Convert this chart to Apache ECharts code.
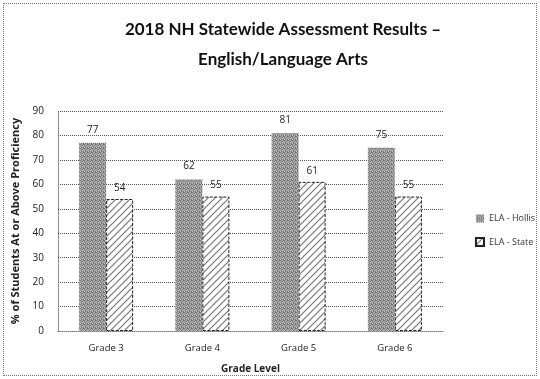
<!DOCTYPE html>
<html>
<head>
<meta charset="utf-8">
<script src="https://cdn.jsdelivr.net/npm/echarts@6/dist/echarts.min.js"></script>
<style>
  html, body { margin: 0; padding: 0; background: #fff; }
  #frame { position: absolute; left: 3px; top: 3px; width: 532px; height: 371px; border: 1px dotted #777; }
  #chart { position: absolute; left: 0; top: 0; width: 540px; height: 379px; }
</style>
</head>
<body>
<div id="frame"></div>
<div id="chart"></div>
<script>
// Grade categories and proficiency percentages
const grades = ['Grade 3', 'Grade 4', 'Grade 5', 'Grade 6'];
const hollis = [77, 62, 81, 75];
const state = [54, 55, 61, 55];
const seriesNames = ['ELA - Hollis', 'ELA - State'];

// Stippled grey fill for the district bars
function stipplePattern() {
  const c = document.createElement('canvas');
  c.width = 4; c.height = 4;
  const g = c.getContext('2d');
  g.fillStyle = '#a6a6a6';
  g.fillRect(0, 0, 4, 4);
  g.fillStyle = '#757575';
  const dots = [[0,0],[2,1],[1,2],[3,3],[3,0],[1,3]];
  dots.forEach(([x, y]) => g.fillRect(x, y, 1, 1));
  g.fillStyle = '#c4c4c4';
  [[2,2],[0,3]].forEach(([x, y]) => g.fillRect(x, y, 1, 1));
  return c;
}

// Diagonal hatch for the state bars
function hatchPattern() {
  const c = document.createElement('canvas');
  c.width = 7; c.height = 7;
  const g = c.getContext('2d');
  g.fillStyle = '#ffffff';
  g.fillRect(0, 0, 7, 7);
  g.strokeStyle = '#777';
  g.lineWidth = 1.2;
  g.beginPath();
  g.moveTo(-1, 8); g.lineTo(8, -1);
  g.moveTo(-1, 1); g.lineTo(1, -1);
  g.moveTo(6, 8); g.lineTo(8, 6);
  g.stroke();
  return c;
}

const chart = echarts.init(document.getElementById('chart'), null, { renderer: 'canvas' });
const font = '"Open Sans", "DejaVu Sans", sans-serif';

chart.setOption({
  animation: false,
  title: {
    text: '2018 NH Statewide Assessment Results –\nEnglish/Language Arts',
    left: 278,
    textAlign: 'center',
    top: 10,
    textStyle: { fontFamily: 'Lato, "Open Sans", sans-serif', fontWeight: 'bold', fontSize: 17, lineHeight: 30, color: '#111' }
  },
  grid: { left: 58, right: 97, top: 111, bottom: 48 },
  legend: {
    orient: 'vertical',
    left: 470,
    top: 209,
    itemWidth: 8,
    itemHeight: 8,
    itemGap: 14,
    icon: 'rect',
    textStyle: { fontFamily: font, fontSize: 9, color: '#333' },
    data: seriesNames
  },
  xAxis: {
    type: 'category',
    data: grades,
    name: 'Grade Level',
    nameLocation: 'middle',
    nameGap: 33,
    nameTextStyle: { fontFamily: font, fontWeight: 'bold', fontSize: 10, color: '#222' },
    axisLine: { lineStyle: { color: '#777', type: 'dotted' } },
    axisTick: { show: false },
    axisLabel: { fontFamily: font, fontSize: 9.5, color: '#222', margin: 12 }
  },
  yAxis: {
    type: 'value',
    min: 0,
    max: 90,
    interval: 10,
    name: '% of Students At or Above Proficiency',
    nameLocation: 'middle',
    nameGap: 35,
    nameTextStyle: { fontFamily: font, fontWeight: 'bold', fontSize: 11, color: '#222' },
    axisLine: { show: true, lineStyle: { color: '#777', type: 'dotted' } },
    axisTick: { show: false },
    axisLabel: { fontFamily: font, fontSize: 10, color: '#222', margin: 14 },
    splitLine: { lineStyle: { color: '#555', type: 'dotted' } }
  },
  series: [
    {
      name: seriesNames[0],
      type: 'bar',
      data: hollis,
      barWidth: 27,
      barGap: '0%',
      itemStyle: { color: { image: stipplePattern(), repeat: 'repeat' } },
      label: { show: true, position: 'top', distance: 8, fontFamily: font, fontSize: 10, color: '#222' }
    },
    {
      name: seriesNames[1],
      type: 'bar',
      data: state,
      barWidth: 27,
      barGap: '0%',
      itemStyle: {
        color: { image: hatchPattern(), repeat: 'repeat' },
        borderColor: '#222',
        borderWidth: 1,
        borderType: [3, 1.5]
      },
      label: { show: true, position: 'top', distance: 6, fontFamily: font, fontSize: 10, color: '#222' }
    }
  ]
});
</script>
</body>
</html>
